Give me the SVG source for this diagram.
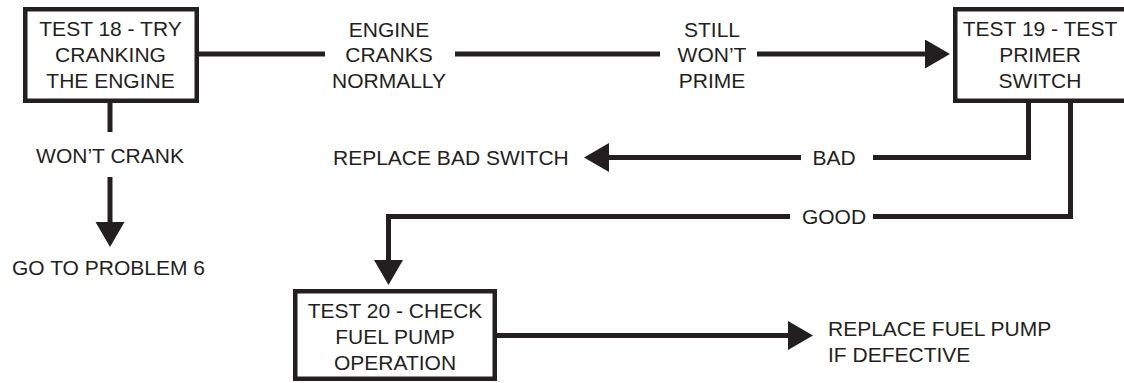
<svg xmlns="http://www.w3.org/2000/svg" width="1124" height="383" viewBox="0 0 1124 383">
  <style>
    .box { fill: #ffffff; stroke: #231f20; stroke-width: 4.5; }
    .t { font-family: "Liberation Sans", Arial, sans-serif; font-size: 21px; fill: #231f20; }
    .c { text-anchor: middle; }
    .ln { fill: none; stroke: #231f20; stroke-width: 5; stroke-linejoin: miter; stroke-linecap: butt; }
    .arr { marker-end: url(#ah); }
  </style>
  <defs>
    <marker id="ah" markerUnits="userSpaceOnUse" markerWidth="26" markerHeight="30" refX="0" refY="14.5" orient="auto" viewBox="0 0 26 30">
      <path d="M0,0 L25,14.5 L0,29 Z" fill="#231f20"/>
    </marker>
  </defs>
  <rect width="1124" height="383" fill="#ffffff"/>

  <g id="connectors">
    <line class="ln" x1="198" y1="54" x2="325" y2="54"/>
    <line class="ln" x1="455" y1="54" x2="660" y2="54"/>
    <line class="ln arr" x1="757" y1="54" x2="925" y2="54"/>

    <line class="ln" x1="110" y1="102" x2="110" y2="132"/>
    <line class="ln arr" x1="110" y1="177" x2="110" y2="222"/>

    <polyline class="ln" points="1028.5,102 1028.5,157.5 873,157.5"/>
    <line class="ln arr" x1="801" y1="157.5" x2="609" y2="157.5"/>

    <polyline class="ln" points="1070.5,102 1070.5,216.5 873,216.5"/>
    <polyline class="ln arr" points="790,216.5 388.5,216.5 388.5,260"/>

    <line class="ln arr" x1="496" y1="335.5" x2="788" y2="335.5"/>

    <text class="t c" x="389" y="36.5">ENGINE</text>
    <text class="t c" x="389" y="62">CRANKS</text>
    <text class="t c" x="389" y="87.5">NORMALLY</text>
    <text class="t c" x="712" y="36.5">STILL</text>
    <text class="t c" x="712" y="62">WON’T</text>
    <text class="t c" x="712" y="87.5">PRIME</text>
    <text class="t c" x="110" y="163">WON’T CRANK</text>
    <text class="t c" x="834" y="164.5">BAD</text>
    <text class="t c" x="834" y="223.5">GOOD</text>
  </g>

  <g id="test18">
    <rect class="box" x="25.25" y="9.25" width="171.5" height="91.5"/>
    <text class="t c" x="110.5" y="35.5">TEST 18 - TRY</text>
    <text class="t c" x="110.5" y="61.5">CRANKING</text>
    <text class="t c" x="110.5" y="87.5">THE ENGINE</text>
  </g>

  <g id="test19">
    <rect class="box" x="955.25" y="9.25" width="172" height="91.5"/>
    <text class="t c" x="1040" y="35.5">TEST 19 - TEST</text>
    <text class="t c" x="1040" y="61.5">PRIMER</text>
    <text class="t c" x="1040" y="87.5">SWITCH</text>
  </g>

  <g id="test20">
    <rect class="box" x="295.25" y="291.25" width="199.5" height="87.5"/>
    <text class="t c" x="395" y="318">TEST 20 - CHECK</text>
    <text class="t c" x="395" y="344">FUEL PUMP</text>
    <text class="t c" x="395" y="370">OPERATION</text>
  </g>

  <g id="problem6">
    <text class="t c" x="108.5" y="275">GO TO PROBLEM 6</text>
  </g>

  <g id="replaceSwitch">
    <text class="t" x="333" y="165">REPLACE BAD SWITCH</text>
  </g>

  <g id="replacePump">
    <text class="t" x="828" y="336">REPLACE FUEL PUMP</text>
    <text class="t" x="828" y="362">IF DEFECTIVE</text>
  </g>
</svg>
